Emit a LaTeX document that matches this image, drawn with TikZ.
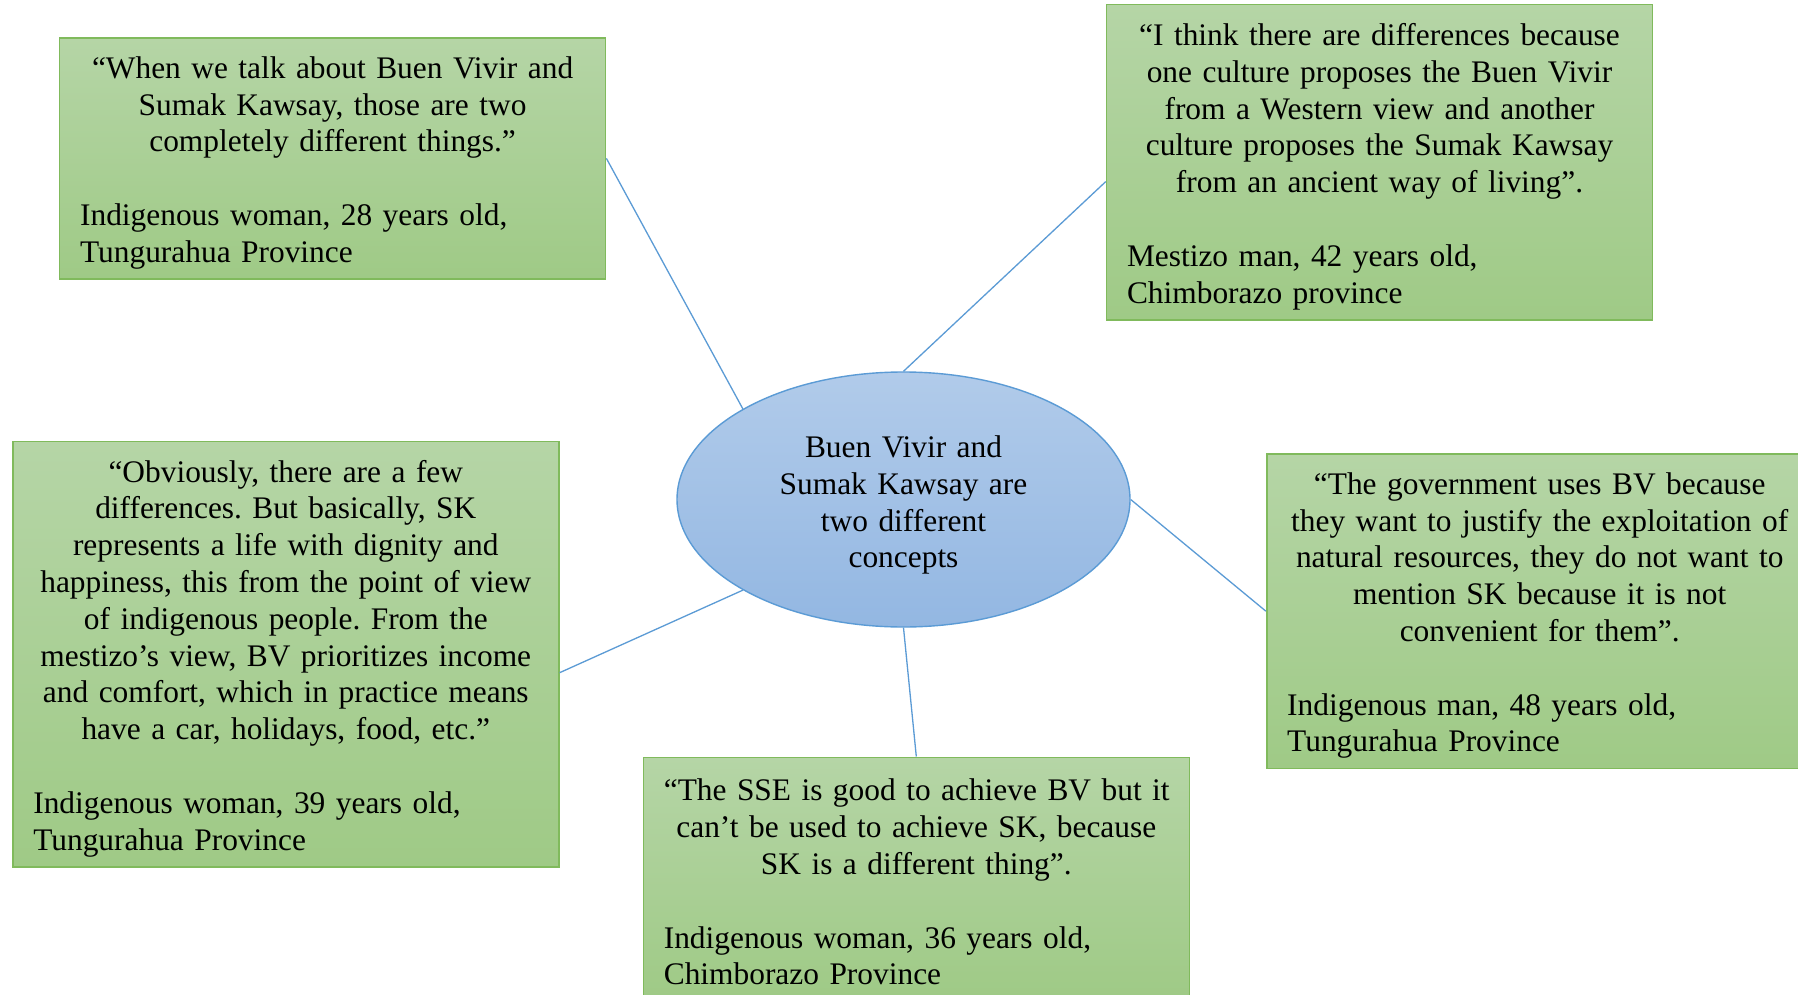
\documentclass[tikz,border=0pt]{standalone}
\usepackage{fontspec}
\setmainfont{Liberation Serif}
\usetikzlibrary{shapes.geometric,calc}
\definecolor{gtop}{HTML}{B5D5A6}
\definecolor{gbot}{HTML}{9FCA86}
\definecolor{gline}{HTML}{80BA5C}
\definecolor{btop}{HTML}{B1CBEA}
\definecolor{bbot}{HTML}{93B7E2}
\definecolor{bline}{HTML}{5B9BD5}
\tikzset{
  quotebox/.style={draw=gline, line width=1.6pt, top color=gtop, bottom color=gbot,
    rectangle, minimum width=546pt, text width=505pt, inner xsep=20.5pt, inner ysep=0pt,
    minimum height=#1, font=\fontsize{31.4}{36.8}\selectfont\frenchspacing},
  centre/.style={ellipse, draw=bline, line width=1.4pt, top color=btop, bottom color=bbot,
    minimum width=453pt, minimum height=255pt, inner sep=0pt, text width=250pt, align=center,
    font=\fontsize{31.4}{36.8}\selectfont\frenchspacing},
  link/.style={draw=bline, line width=1.3pt}
}
\hfuzz=50pt
\newcommand{\qt}[2]{{\centering\rule{0pt}{30.5pt}#1\\\mbox{}\par}{\raggedright #2\par}}
\begin{document}
\begin{tikzpicture}[x=1pt,y=-1pt]
\clip (0,0) rectangle (1798,995);
\fill[white] (0,0) rectangle (1798,995);

\node[centre] (ell) at (903.5,499.5) {\rule{0pt}{33pt}Buen Vivir and\\Sumak Kawsay are\\two different\\concepts};

\node[quotebox=241pt] (b1) at (332.6,158.4) {\qt{“When we talk about Buen Vivir and\\Sumak Kawsay, those are two\\completely different things.”}{Indigenous woman, 28 years old,\\Tungurahua Province}};

\node[quotebox=315.3pt] (b2) at (1379.5,162.35) {\qt{“I think there are differences because\\one culture proposes the Buen Vivir\\from a Western view and another\\culture proposes the Sumak Kawsay\\from an ancient way of living”.}{Mestizo man, 42 years old,\\Chimborazo province}};

\node[quotebox=425.5pt] (b3) at (285.8,654.2) {\qt{“Obviously, there are a few\\differences. But basically, SK\\represents a life with dignity and\\happiness, this from the point of view\\of indigenous people. From the\\mestizo’s view, BV prioritizes income\\and comfort, which in practice means\\have a car, holidays, food, etc.”}{Indigenous woman, 39 years old,\\Tungurahua Province}};

\node[quotebox=314.2pt] (b4) at (1539.7,611.2) {\qt{“The government uses BV because\\they want to justify the exploitation of\\natural resources, they do not want to\\mention SK because it is not\\convenient for them”.}{Indigenous man, 48 years old,\\Tungurahua Province}};

\node[quotebox=241pt] (b5) at (916.3,877.8) {\qt{\mbox{“The SSE is good to achieve BV but it}\\can’t be used to achieve SK, because\\SK is a different thing”.}{Indigenous woman, 36 years old,\\Chimborazo Province}};

\coordinate (p2) at ($(b2.west)+(0,19.3)$);
\coordinate (p3) at ($(b3.east)+(0,18.5)$);

\draw[link] (b1.east) -- (ell.north west);
\draw[link] (ell.north) -- (p2);
\draw[link] (p3) -- (ell.south west);
\draw[link] (ell.east) -- (b4.west);
\draw[link] (ell.south) -- (b5.north);
\end{tikzpicture}
\end{document}
